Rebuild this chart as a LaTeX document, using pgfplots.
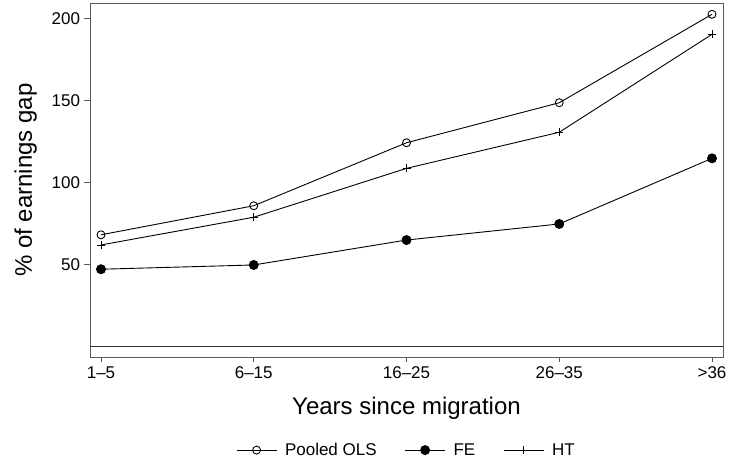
\documentclass[border=0pt]{standalone}
\usepackage{fontspec}
\setmainfont{Liberation Sans}
\usepackage{pgfplots}
\pgfplotsset{compat=1.18}
\begin{document}
\begin{tikzpicture}
\useasboundingbox (0,0) rectangle (729pt,468pt);
\begin{axis}[
  at={(90pt,111pt)}, anchor=south west,
  scale only axis, width=633pt, height=354pt,
  xmin=-0.072, xmax=4.072, ymin=-6.5, ymax=209.3,
  xtick={0,1,2,3,4},
  xticklabels={1--5,6--15,16--25,26--35,>36},
  ytick={50,100,150,200},
  tick align=outside, tick pos=left,
  major tick length=5.5pt,
  axis line style={black!65, line width=0.9pt},
  tick style={black!65, line width=0.9pt},
  /pgf/number format/assume math mode=true,
  ticklabel style={font=\fontsize{17}{20}\selectfont},
  yticklabel style={xshift=-1pt},
  xticklabel style={yshift=-1pt},
  xlabel={Years since migration},
  ylabel={\% of earnings gap},
  label style={font=\fontsize{24}{28}\selectfont},
  xlabel style={yshift=-11pt},
  ylabel style={yshift=8pt},
  legend columns=3,
  legend style={at={(0.5,-0.263)}, anchor=center, draw=none, fill=none,
    font=\fontsize{17}{20}\selectfont,
    /tikz/every odd column/.append style={column sep=6pt},
    /tikz/every even column/.append style={column sep=26pt}},
  legend image code/.code={\draw[mark repeat=2,mark phase=2] plot coordinates {(0pt,0pt) (20pt,0pt) (40pt,0pt)};},
]
\addplot[forget plot, black!80, line width=0.9pt] coordinates {(-0.072,0) (4.072,0)};
\addplot[black, line width=0.9pt, mark=o, mark size=4pt, mark options={line width=0.9pt}] coordinates {
(0,68.0) (1,85.7) (2,124.1) (3,148.5) (4,202.4)};
\addlegendentry{Pooled OLS}
\addplot[black, line width=0.9pt, mark=*, mark size=4.5pt] coordinates {
(0,47.0) (1,49.6) (2,64.8) (3,74.6) (4,114.6)};
\addlegendentry{FE}
\addplot[black, line width=0.9pt, mark=+, mark size=4pt, mark options={line width=0.9pt}] coordinates {
(0,61.8) (1,78.7) (2,108.5) (3,130.5) (4,190.2)};
\addlegendentry{HT}
\end{axis}
\end{tikzpicture}
\end{document}
